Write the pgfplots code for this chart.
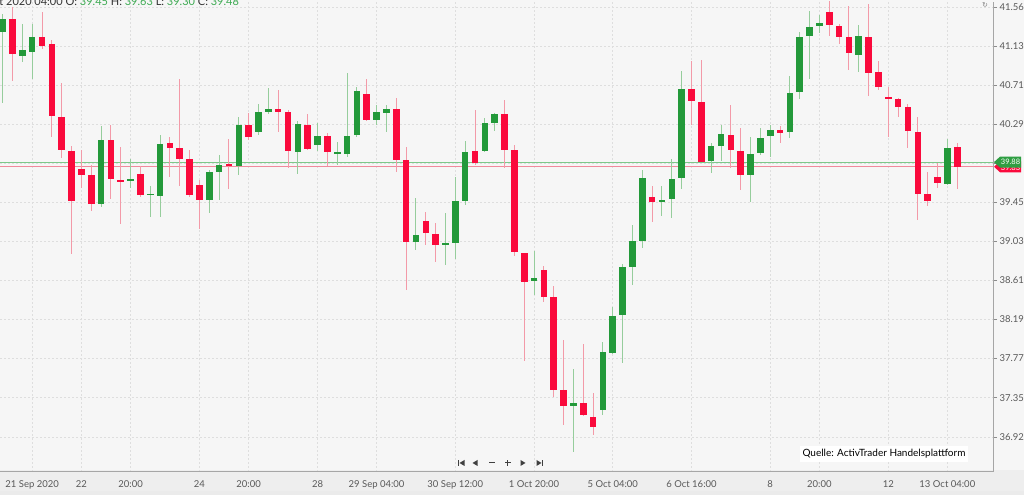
\documentclass[border=0pt]{standalone}
\usepackage{pgfplots}
\pgfplotsset{compat=1.18}
\usepackage{pgfplotstable}
\usetikzlibrary{calc}
\usepackage{fontspec}
\setmainfont{Lato}
\newfontfamily\dejavu{DejaVu Sans}
\definecolor{bgc}{HTML}{F6F6F6}
\definecolor{bandc}{HTML}{EEEEEE}
\definecolor{cred}{HTML}{FA0A3C}
\definecolor{cgreen}{HTML}{23993A}
\definecolor{wred}{HTML}{F39AA8}
\definecolor{wgreen}{HTML}{96CD9C}
\definecolor{lgreen}{HTML}{7CC889}
\definecolor{lred}{HTML}{F08A9B}
\definecolor{hgreen}{HTML}{3DAA52}
\definecolor{tagg}{HTML}{2E9E42}

\pgfplotstableread{
x o h l c
0 41.29 41.48 40.52 41.43
2 41.03 41.37 40.97 41.09
3 41.07 41.38 40.78 41.23
10 39.43 40.27 39.40 40.12
13 39.68 39.92 39.60 39.70
15 39.53 39.63 39.29 39.54
16 39.52 40.18 39.29 40.08
21 39.48 39.80 39.34 39.78
22 39.78 39.96 39.47 39.85
24 39.84 40.37 39.75 40.29
26 40.21 40.51 40.18 40.42
27 40.43 40.68 40.40 40.46
30 39.99 40.33 39.76 40.30
32 40.07 40.31 40.00 40.17
34 39.97 40.10 39.85 39.99
35 39.97 40.85 39.94 40.17
36 40.18 40.69 40.15 40.65
38 40.34 40.50 40.28 40.43
39 40.41 40.50 40.21 40.46
42 39.02 39.50 38.94 39.10
45 38.99 39.33 38.77 39.01
46 39.01 39.72 38.84 39.46
47 39.47 40.11 39.42 39.99
49 40.00 40.36 39.99 40.31
50 40.31 40.41 40.22 40.40
54 38.60 38.92 38.45 38.63
58 37.25 37.65 36.76 37.28
61 37.21 37.94 37.15 37.83
62 37.82 38.32 37.81 38.22
63 38.23 38.78 37.72 38.75
64 38.75 39.21 38.56 39.03
65 39.03 39.80 38.96 39.71
67 39.45 39.63 39.30 39.48
68 39.49 39.92 39.28 39.70
69 39.71 40.87 39.59 40.67
72 39.90 40.09 39.77 40.06
73 40.06 40.28 39.90 40.19
76 39.74 40.15 39.45 39.97
77 39.98 40.25 39.96 40.14
78 40.17 40.29 39.94 40.23
80 40.21 40.81 40.14 40.63
81 40.64 41.29 40.57 41.23
82 41.24 41.51 40.78 41.34
83 41.35 41.47 41.28 41.39
87 41.04 41.36 40.86 41.24
96 39.65 40.13 39.64 40.04
}\greentab

\pgfplotstableread{
x o h l c
1 41.43 41.56 40.76 41.05
4 41.23 41.50 41.10 41.14
5 41.16 41.20 40.16 40.38
6 40.37 40.74 39.93 40.01
7 40.00 40.06 38.89 39.46
8 39.81 40.02 39.61 39.74
9 39.74 39.85 39.36 39.43
11 40.12 40.28 39.49 39.70
12 39.69 40.05 39.22 39.67
14 39.76 39.84 39.51 39.53
17 40.09 40.15 39.72 40.04
18 40.04 40.78 39.63 39.92
19 39.92 40.02 39.51 39.53
20 39.64 39.69 39.16 39.48
23 39.86 40.13 39.59 39.84
25 40.29 40.41 40.12 40.15
28 40.46 40.66 40.21 40.43
29 40.42 40.45 39.82 40.00
31 40.28 40.40 40.01 40.03
33 40.17 40.20 39.84 39.99
37 40.62 40.78 40.33 40.34
40 40.46 40.58 39.78 39.91
41 39.91 40.05 38.50 39.02
43 39.25 39.35 38.99 39.12
44 39.11 39.23 38.81 38.99
48 40.00 40.45 39.85 39.87
51 40.40 40.55 39.82 40.02
52 40.02 40.07 38.87 38.91
53 38.90 38.90 37.74 38.59
55 38.72 38.76 38.37 38.43
56 38.43 38.55 37.35 37.43
57 37.42 37.96 37.05 37.25
59 37.28 37.92 37.14 37.15
60 37.13 37.39 36.94 37.03
66 39.51 39.63 39.24 39.45
70 40.67 40.97 40.28 40.54
71 40.53 40.99 39.89 39.89
74 40.18 40.50 39.82 40.01
75 40.00 40.25 39.58 39.74
79 40.23 40.27 40.09 40.20
84 41.50 41.62 41.24 41.36
85 41.35 41.38 41.16 41.23
86 41.23 41.57 40.88 41.06
88 41.23 41.59 40.60 40.85
89 40.86 40.97 40.66 40.69
90 40.59 40.69 40.16 40.56
91 40.56 40.58 40.37 40.48
92 40.48 40.51 40.04 40.22
93 40.21 40.37 39.26 39.54
94 39.54 39.78 39.41 39.46
95 39.72 39.88 39.61 39.66
97 40.05 40.09 39.59 39.83
}\redtab

\pgfplotsset{candle/.style={only marks, mark=*, mark size=0pt,
  mark options={draw opacity=0, fill opacity=0}, forget plot,
  error bars/.cd, y dir=both, y explicit, error mark=none}}

\begin{document}
\begin{tikzpicture}[x=1bp,y=1bp]
\useasboundingbox (0,0) rectangle (1024,495);
\fill[bgc] (0,0) rectangle (1024,495);
\fill[bandc] (0,4) rectangle (1024,25);
\fill[black!8] (0,0) rectangle (1024,4);
\begin{axis}[
  at={(0,25)}, anchor=south west,
  scale only axis, width=993bp, height=470bp,
  xmin=-0.27, xmax=100.64, ymin=36.542, ymax=41.614,
  axis y line*=right, axis x line*=bottom,
  axis line style={black!35, line width=0.8bp},
  xtick={3,8,13,20,25,32,38,46,54,62,70,78,83,90,96},
  xticklabels={21 Sep 2020,22,20:00,24,20:00,28,29 Sep 04:00,30 Sep 12:00,1 Oct 20:00,5 Oct 04:00,6 Oct 16:00,8,20:00,12,13 Oct 04:00},
  ytick={41.56,41.138,40.716,40.295,39.873,39.451,39.029,38.607,38.186,37.764,37.342,36.920},
  yticklabels={41.56,41.13,40.71,40.29,{},39.45,39.03,38.61,38.19,37.77,37.35,36.92},
  xtick style={draw=none},
  ytick style={black!45, line width=0.6bp},
  major tick length=4bp, tick align=outside,
  ticklabel style={font=\fontsize{9.5bp}{11bp}\selectfont, text=black!65},
  xticklabel style={yshift=-1bp},
  yticklabel style={xshift=-1bp},
  grid=major,
  major grid style={black!13, line width=0.6bp, dash pattern=on 2bp off 2bp},
  clip=true,
]
\addplot[lgreen, line width=1.2bp, forget plot] coordinates {(-0.27,39.884) (100.64,39.884)};
\addplot[lred, line width=1.2bp, forget plot] coordinates {(-0.27,39.834) (100.64,39.834)};
% wicks
\addplot[candle, error bar style={line width=1bp, wgreen}]
  table[x=x, y expr=(\thisrow{h}+\thisrow{l})/2, y error expr=(\thisrow{h}-\thisrow{l})/2] {\greentab};
\addplot[candle, error bar style={line width=1bp, wred}]
  table[x=x, y expr=(\thisrow{h}+\thisrow{l})/2, y error expr=(\thisrow{h}-\thisrow{l})/2] {\redtab};
% bodies
\addplot[candle, error bar style={line width=6.6bp, cgreen}]
  table[x=x, y expr=(\thisrow{o}+\thisrow{c})/2, y error expr=abs(\thisrow{o}-\thisrow{c})/2] {\greentab};
\addplot[candle, error bar style={line width=6.6bp, cred}]
  table[x=x, y expr=(\thisrow{o}+\thisrow{c})/2, y error expr=abs(\thisrow{o}-\thisrow{c})/2] {\redtab};
\coordinate (G) at (axis cs:100.64,39.884);
\coordinate (R) at (axis cs:100.64,39.834);
\end{axis}
% price tags
\fill[cred] ($(R)+(1,0)$) -- ++(6,5.5) -- ++(21,0) -- ++(0,-11) -- ++(-21,0) -- cycle;
\node[text=white, font=\fontsize{7.5bp}{8bp}\selectfont] at ($(R)+(17.5,-1)$) {39.83};
\fill[tagg] ($(G)+(1,0)$) -- ++(6,5.5) -- ++(21,0) -- ++(0,-11) -- ++(-21,0) -- cycle;
\node[text=white, font=\fontsize{7.5bp}{8bp}\selectfont] at ($(G)+(17.5,0)$) {39.88};
% header
\node[anchor=base west, inner sep=0, font=\fontsize{11bp}{12bp}\selectfont, text=black!80] at (-24,489)
 {6 Oct 2020 04:00 O: \textcolor{hgreen}{39.45} H: \textcolor{hgreen}{39.63} L: \textcolor{hgreen}{39.30} C: \textcolor{hgreen}{39.48}};
% refresh icon
\node[text=black!50, font=\dejavu\fontsize{7bp}{8bp}\selectfont] at (985,490) {↻};
% source box
\node[fill=white, inner xsep=3bp, inner ysep=3bp, font=\fontsize{10bp}{12bp}\selectfont, text=black] at (884,41) {Quelle: ActivTrader Handelsplattform};
% navigation icons
\begin{scope}[black!75]
\fill (458,29) rectangle (459.2,35);
\fill (464.5,35) -- (459.5,32) -- (464.5,29) -- cycle;
\fill (477.5,35) -- (472.5,32) -- (477.5,29) -- cycle;
\fill (488.5,31.5) rectangle (494.5,32.5);
\fill (504.5,31.5) rectangle (510.5,32.5);
\fill (507,29) rectangle (508,35);
\fill (520.5,35) -- (525.5,32) -- (520.5,29) -- cycle;
\fill (536.5,35) -- (541.5,32) -- (536.5,29) -- cycle;
\fill (541.8,29) rectangle (543,35);
\end{scope}
\end{tikzpicture}
\end{document}
